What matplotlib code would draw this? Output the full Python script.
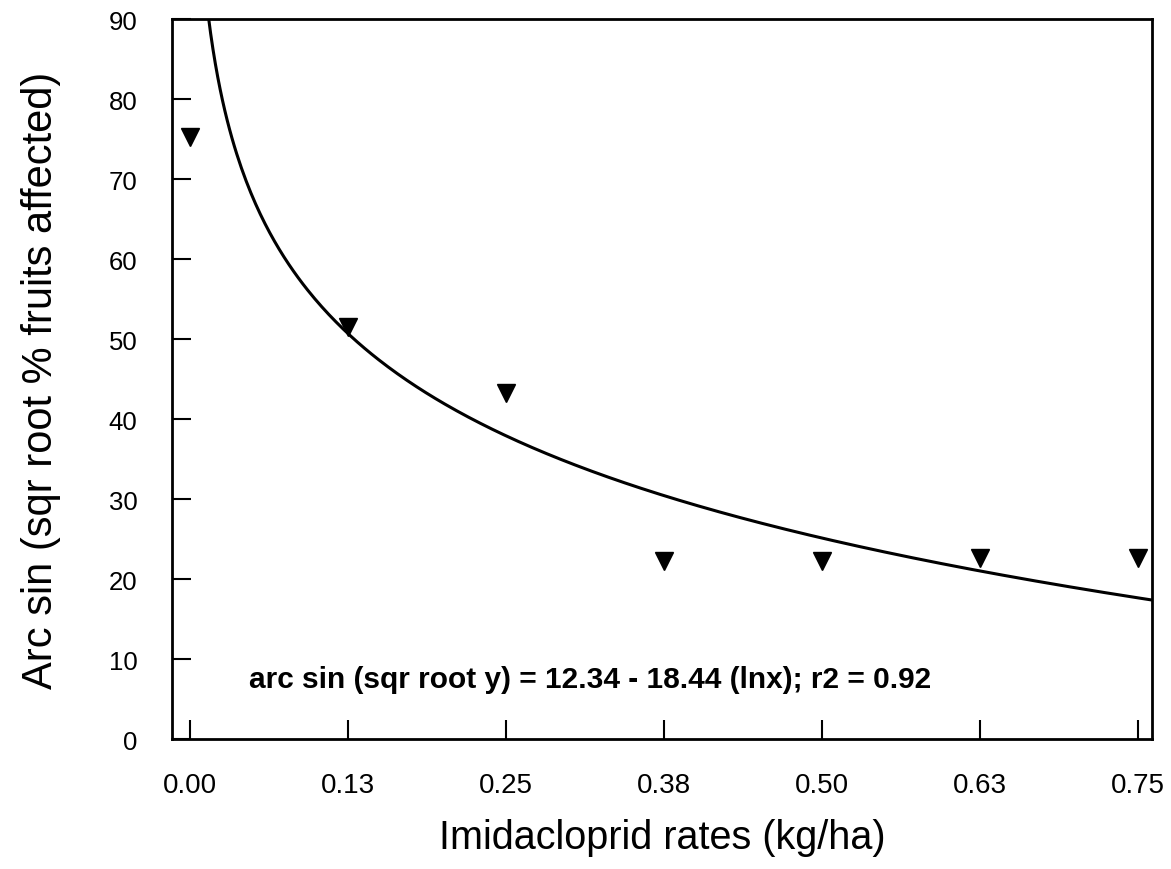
import numpy as np
import matplotlib.pyplot as plt

plt.rcParams['font.family'] = ['Liberation Sans', 'DejaVu Sans']

# observed points (kg/ha, arc sin transformed %)
rates = [0.0, 0.125, 0.25, 0.375, 0.5, 0.625, 0.75]
affected = [75.3, 51.5, 43.3, 22.3, 22.3, 22.6, 22.6]
tick_labels = ['0.00', '0.13', '0.25', '0.38', '0.50', '0.63', '0.75']

# fitted curve coefficients printed on the chart
intercept = 12.34
slope = 18.44

fig = plt.figure(figsize=(11.71, 8.70), dpi=100)
ax = fig.add_axes([0.1469, 0.1494, 0.8369, 0.8276])

xfit = np.linspace(0.0145, 0.7611, 400)
ax.plot(xfit, intercept - slope * np.log(xfit), color='black', lw=2.2)
ax.plot(rates, affected, linestyle='none', marker='v', color='black', markersize=13)

ax.set_xlim(-0.0142, 0.7611)
ax.set_ylim(0, 90)
ax.set_xticks(rates)
ax.set_xticklabels(tick_labels)
ax.set_yticks(np.arange(0, 91, 10))
ax.tick_params(direction='in', length=14, width=1.5)
ax.tick_params(axis='x', pad=24, labelsize=20)
ax.tick_params(axis='y', pad=25, labelsize=18.5)
for s in ax.spines.values():
    s.set_linewidth(2)

ax.set_xlabel('Imidacloprid rates (kg/ha)', fontsize=28.5, labelpad=14)
ax.set_ylabel('Arc sin (sqr root % fruits affected)', fontsize=30, labelpad=34)
ax.text(0.3165, 7.5, 'arc sin (sqr root y) = 12.34 - 18.44 (lnx); r2 = 0.92',
        fontsize=21.5, fontweight='bold', ha='center', va='center')

fig.savefig('out.png', dpi=100)
